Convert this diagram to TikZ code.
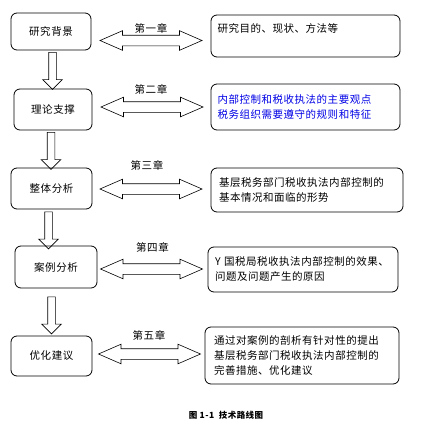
\documentclass[tikz,border=0pt]{standalone}
\usepackage{fontspec}
\setmainfont[LetterSpace=5]{Noto Sans CJK SC}
\usetikzlibrary{shapes.arrows}

\begin{document}
\begin{tikzpicture}[x=1pt, y=-1pt, font=\fontsize{10.5}{15}\selectfont, stage/.style={draw, rectangle, rounded corners=6, line width=0.8pt, minimum width=81, minimum height=41}, note/.style={draw, rectangle, rounded corners=6, line width=0.8pt, minimum width=190, text width=176, align=left, inner sep=0}, down/.style={draw, single arrow, rotate=-90, minimum width=0, minimum height=37, inner xsep=0, inner ysep=3.5, single arrow head extend=6, line width=0.6pt}, link/.style={draw, double arrow, minimum width=0, minimum height=102, inner xsep=0, inner ysep=5, double arrow head extend=4.5, double arrow tip angle=47, line width=0.6pt}, chap/.style={inner sep=0}]
        \useasboundingbox (0,0) rectangle (423,431);
        % steps
        \node[stage, minimum width=80, minimum height=37] (s1) at (51,31.5) {研究背景};
        \node[stage, minimum width=78] (s2) at (53,109.5) {理论支撑};
        \node[stage] (s3) at (51.5,188.5) {整体分析};
        \node[stage, minimum width=82, minimum height=42] (s4) at (56,267) {案例分析};
        \node[stage, minimum height=40] (s5) at (51.5,356) {优化建议};
        % contents
        \node[note, minimum width=189, minimum height=42] (t1) at (305.5,36) {研究目的、现状、方法等\\ \mbox{}};
        \node[note, minimum width=189, minimum height=46, text=blue!90!black] (t2) at (305.5,107) {内部控制和税收执法的主要观点\\税务组织需要遵守的规则和特征};
        \node[note, minimum width=192, minimum height=44] (t3) at (307,190) {基层税务部门税收执法内部控制的\\基本情况和面临的形势};
        \node[note, minimum height=45] (t4) at (303,269.5) {Y 国税局税收执法内部控制的效果、\\问题及问题产生的原因};
        \node[note, minimum width=194, minimum height=57] (t5) at (302,355.5) {通过对案例的剖析有针对性的提出\\基层税务部门税收执法内部控制的\\完善措施、优化建议};
        % flow
        \node[down] (d1) at (52.5,69) {};
        \node[down] (d2) at (51,149) {};
        \node[down] (d3) at (48.5,228.5) {};
        \node[down] (d4) at (51.5,313.5) {};
        % chapters
        \node[link] (a1) at (151,40.5) {};
        \node[link] (a2) at (152,107) {};
        \node[link] (a3) at (151,189) {};
        \node[link] (a4) at (151.5,269) {};
        \node[link] (a5) at (149.5,354) {};
        \node[chap] (c1) at (151,28) {第一章};
        \node[chap] (c2) at (151,89) {第二章};
        \node[chap] (c3) at (147,165) {第三章};
        \node[chap] (c4) at (152.5,247) {第四章};
        \node[chap] (c5) at (149,335) {第五章};
        \node[chap, font=\fontsize{8.5}{10}\selectfont\bfseries] (cap) at (226,415) {图 1-1\ \ 技术路线图};
    \end{tikzpicture}
\end{document}
